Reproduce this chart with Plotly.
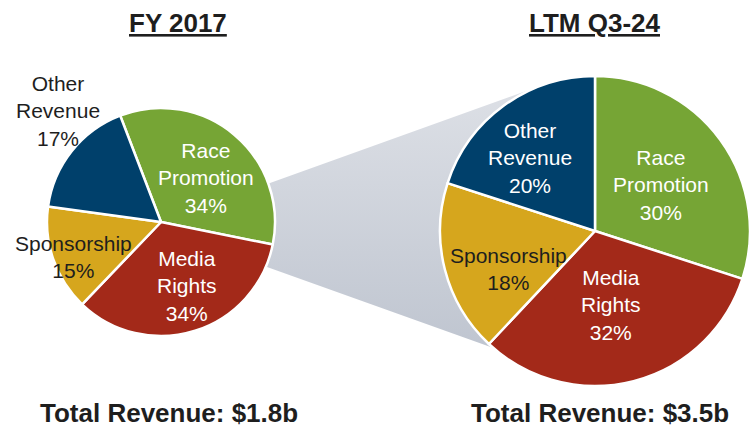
import plotly.graph_objects as go

# Revenue mix, FY 2017 vs LTM Q3-24 (% of total revenue)
categories = ["Race Promotion", "Media Rights", "Sponsorship", "Other Revenue"]
fy2017_share = [34, 34, 15, 17]
ltm_share = [30, 32, 18, 20]
period_titles = ["FY 2017", "LTM Q3-24"]
total_revenue = ["$1.8b", "$3.5b"]

colors = ["#76a535", "#a32919", "#d6a61d", "#00406b"]
W, H = 750, 428
FONT = "Liberation Sans, Arial, sans-serif"
DARK = "#1e1e1e"

fig = go.Figure()

# connector band between the two pies (drawn beneath them)
band_x = [270, 540, 595, 499, 267, 161, 270]
band_y = [183, 86, 231, 350, 267, 222, 183]
fig.add_trace(go.Scatter(
    x=band_x, y=band_y, mode="lines", fill="toself",
    line=dict(width=0, color="rgba(0,0,0,0)"),
    fillgradient=dict(type="vertical",
                      colorscale=[[0, "#bfc5d0"], [1, "#dde0e6"]]),
    hoverinfo="skip", showlegend=False,
))

# left pie: centre (161, 222), r = 114 px
fig.add_trace(go.Pie(
    labels=categories, values=fy2017_share, sort=False,
    direction="clockwise", rotation=-21,
    marker=dict(colors=colors, line=dict(color="white", width=2.5)),
    textinfo="none", hoverinfo="label+percent", showlegend=False,
    domain=dict(x=[47 / W, 275 / W], y=[(H - 336) / H, (H - 108) / H]),
))

# right pie: centre (595, 231), r = 155 px
fig.add_trace(go.Pie(
    labels=categories, values=ltm_share, sort=False,
    direction="clockwise", rotation=0,
    marker=dict(colors=colors, line=dict(color="white", width=2.5)),
    textinfo="none", hoverinfo="label+percent", showlegend=False,
    domain=dict(x=[440 / W, 1.0], y=[(H - 386) / H, (H - 76) / H]),
))

# slice labels
left_pos = [(206, 178), (187, 286), (73, 257), (58, 111)]
right_pos = [(661, 185), (611, 305), (508, 269), (530, 158)]
left_colors = ["white", "white", DARK, DARK]
right_colors = ["white", "white", DARK, "white"]

for shares, positions, tcolors in [(fy2017_share, left_pos, left_colors),
                                   (ltm_share, right_pos, right_colors)]:
    for cat, v, (px, py), tc in zip(categories, shares, positions, tcolors):
        fig.add_annotation(
            x=px, y=py, xref="x", yref="y", showarrow=False,
            text=cat.replace(" ", "<br>") + f"<br>{v}%",
            font=dict(family=FONT, size=21, color=tc),
            xanchor="center", yanchor="middle", align="center",
        )

# period titles and totals
for title, cx in zip(period_titles, [178, 595]):
    fig.add_annotation(
        x=cx, y=23, xref="x", yref="y", showarrow=False,
        text=f"<b><u>{title}</u></b>",
        font=dict(family=FONT, size=26, color=DARK),
        xanchor="center", yanchor="middle",
    )
for total, cx in zip(total_revenue, [169, 600]):
    fig.add_annotation(
        x=cx, y=413, xref="x", yref="y", showarrow=False,
        text=f"<b>Total Revenue: {total}</b>",
        font=dict(family=FONT, size=26, color=DARK),
        xanchor="center", yanchor="middle",
    )

fig.update_xaxes(range=[0, W], visible=False, fixedrange=True)
fig.update_yaxes(range=[H, 0], visible=False, fixedrange=True)
fig.update_layout(
    width=W, height=H, margin=dict(l=0, r=0, t=0, b=0),
    paper_bgcolor="white", plot_bgcolor="white",
    xaxis=dict(domain=[0, 1]), yaxis=dict(domain=[0, 1]),
)

fig.write_html("out.html")
